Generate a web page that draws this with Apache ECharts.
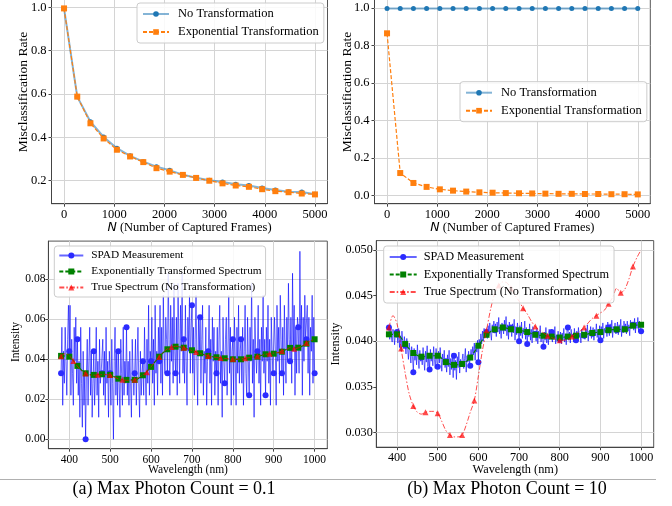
<!DOCTYPE html>
<html><head><meta charset="utf-8">
<script src="https://cdn.jsdelivr.net/npm/echarts@6/dist/echarts.min.js"></script>
<style>html,body{margin:0;padding:0;background:#fff}#c{width:672px;height:506px}</style>
</head><body><div id="c"></div>
<script>
// ---------- data ----------
const frames = [0,263,526,789,1053,1316,1579,1842,2105,2368,2632,2895,3158,3421,3684,3947,4211,4474,4737,5000];
const errNoTransA = [0.995,0.588,0.472,0.402,0.350,0.315,0.288,0.265,0.248,0.228,0.214,0.202,0.194,0.184,0.178,0.167,0.157,0.149,0.148,0.138];
const errExpA     = [0.995,0.588,0.465,0.395,0.343,0.312,0.286,0.258,0.242,0.227,0.213,0.200,0.188,0.178,0.172,0.161,0.152,0.147,0.141,0.137];
const errNoTransB = [0.998,0.998,0.998,0.998,0.998,0.998,0.998,0.998,0.998,0.998,0.998,0.998,0.998,0.998,0.998,0.998,0.998,0.998,0.998,0.998];
const errExpB     = [0.865,0.119,0.066,0.045,0.032,0.025,0.020,0.016,0.014,0.012,0.011,0.010,0.009,0.008,0.008,0.007,0.007,0.006,0.006,0.005];

// SPAD measurement, 380..1000 nm every 2 nm
const spadStart = 380, spadStep = 2;
const spadA = [
.033,.056,.017,.044,.028,.056,.039,.022,.05,.067,
.044,.067,.022,.05,.033,.017,.056,.039,.061,.028,
.05,.022,.039,.011,.056,.028,.006,.044,.017,.033,
0,.033,.05,.017,.039,.056,.022,.044,.011,.028,
.044,.017,.033,.056,.022,.039,.011,.05,.028,.033,
.033,.05,.022,.044,.017,.056,.028,.039,.011,.044,
.033,.017,.05,.028,0,.039,.056,.022,.044,.017,
.044,.028,.011,.05,.033,.017,.056,.022,.039,.028,
.056,.022,.039,.017,.044,.028,.011,.05,.033,.022,
.033,.05,.017,.039,.056,.028,.011,.044,.022,.033,
.039,.022,.056,.033,.017,.05,.028,.067,.022,.044,
.039,.061,.028,.05,.017,.067,.033,.044,.022,.056,
.039,.067,.028,.056,.022,.072,.044,.033,.061,.05,
.033,.083,.05,.022,.067,.039,.061,.028,.078,.044,
.033,.061,.022,.078,.05,.028,.067,.044,.083,.033,
.05,.028,.067,.039,.017,.061,.044,.072,.033,.056,
.067,.033,.056,.022,.05,.072,.039,.017,.061,.044,
.061,.028,.05,.067,.022,.044,.033,.056,.017,.039,
.044,.067,.028,.05,.017,.061,.039,.056,.022,.044,
.033,.056,.017,.05,.067,.028,.044,.011,.061,.039,
.028,.05,.061,.022,.044,.072,.033,.056,.017,.044,
.05,.022,.061,.039,.017,.056,.033,.067,.028,.044,
.05,.028,.056,.017,.044,.067,.033,.022,.061,.039,
.022,.056,.039,.078,.028,.05,.011,.061,.044,.033,
.044,.067,.028,.05,.017,.056,.039,.072,.033,.05,
.022,.056,.039,.067,.028,.05,.017,.061,.044,.033,
.033,.061,.044,.017,.067,.039,.056,.028,.072,.05,
.033,.056,.022,.067,.044,.028,.061,.039,.078,.05,
.039,.061,.028,.083,.044,.067,.022,.056,.033,.061,
.056,.033,.094,.044,.067,.022,.061,.039,.072,.05,
.05,.067,.033,.061,.022,.056,.044,.072,.028,.061,
.033];
const spadB = [
.0415,.0402,.0418,.0405,.0399,.0413,.0407,.0396,.0411,.0404,
.0410,.0398,.0414,.0393,.0406,.0389,.0411,.0400,.0392,.0405,
.0395,.0386,.0403,.0391,.0380,.0398,.0388,.0376,.0394,.0383,
.0366,.0392,.0379,.0388,.0374,.0396,.0381,.0370,.0390,.0378,
.0382,.0374,.0393,.0379,.0368,.0389,.0377,.0395,.0372,.0386,
.0369,.0391,.0378,.0387,.0373,.0394,.0380,.0370,.0392,.0376,
.0372,.0389,.0376,.0393,.0381,.0367,.0386,.0374,.0390,.0371,
.0378,.0366,.0385,.0372,.0390,.0363,.0381,.0369,.0387,.0360,
.0384,.0368,.0379,.0358,.0383,.0371,.0388,.0365,.0380,.0373,
.0375,.0386,.0370,.0381,.0392,.0366,.0384,.0377,.0389,.0374,
.0373,.0391,.0380,.0394,.0385,.0398,.0379,.0396,.0388,.0401,
.0377,.0402,.0393,.0408,.0397,.0411,.0400,.0414,.0404,.0410,
.0410,.0403,.0417,.0406,.0420,.0409,.0401,.0418,.0411,.0422,
.0412,.0419,.0405,.0421,.0410,.0426,.0408,.0416,.0403,.0420,
.0415,.0408,.0423,.0411,.0427,.0406,.0418,.0402,.0421,.0412,
.0415,.0405,.0419,.0409,.0424,.0401,.0416,.0407,.0420,.0410,
.0400,.0417,.0406,.0421,.0403,.0414,.0408,.0422,.0402,.0415,
.0397,.0412,.0405,.0419,.0401,.0413,.0398,.0416,.0406,.0411,
.0408,.0400,.0414,.0397,.0411,.0403,.0417,.0399,.0409,.0402,
.0394,.0410,.0401,.0415,.0398,.0408,.0396,.0413,.0403,.0409,
.0410,.0399,.0412,.0402,.0416,.0397,.0407,.0400,.0411,.0398,
.0402,.0410,.0397,.0409,.0401,.0414,.0399,.0408,.0396,.0412,
.0415,.0401,.0410,.0398,.0413,.0404,.0408,.0399,.0414,.0403,
.0401,.0411,.0400,.0415,.0404,.0409,.0398,.0413,.0405,.0410,
.0406,.0402,.0414,.0405,.0418,.0400,.0411,.0407,.0416,.0403,
.0408,.0415,.0401,.0413,.0406,.0419,.0404,.0412,.0399,.0417,
.0401,.0416,.0407,.0420,.0403,.0414,.0409,.0418,.0405,.0421,
.0415,.0406,.0419,.0410,.0423,.0404,.0416,.0411,.0420,.0408,
.0412,.0421,.0407,.0418,.0410,.0424,.0405,.0417,.0409,.0422,
.0413,.0419,.0408,.0422,.0411,.0418,.0406,.0423,.0414,.0420,
.0418,.0412,.0425,.0409,.0421,.0414,.0426,.0410,.0422,.0415,
.0411];

// exponentially transformed spectrum, every 20 nm
const wl20 = [380,400,420,440,460,480,500,520,540,560,580,600,620,640,660,680,700,720,740,760,780,800,820,840,860,880,900,920,940,960,980,1000];
const expSpecA = [.0417,.0413,.0367,.0330,.0322,.0325,.0322,.0303,.0297,.0297,.0320,.0362,.0413,.0450,.0463,.0458,.0445,.0430,.0417,.0410,.0405,.0400,.0400,.0408,.0413,.0425,.0428,.0438,.0457,.0458,.0478,.0500];
const expSpecB = [.04075,.04075,.0397,.0387,.0383,.0384,.0384,.0377,.0374,.0375,.0382,.0395,.0407,.0413,.0415,.0413,.0412,.0410,.0407,.0406,.0405,.0404,.0405,.0406,.0407,.0409,.0410,.0412,.0413,.0413,.0417,.0418];

// true spectrum, every 10 nm
const wl10 = [380,390,400,410,420,430,440,450,460,470,480,490,500,510,520,530,540,550,560,570,580,590,600,610,620,630,640,650,660,670,680,690,700,710,720,730,740,750,760,770,780,790,800,810,820,830,840,850,860,870,880,890,900,910,920,930,940,950,960,970,980,990,1000];
const trueSpec = [.0415,.0428,.0419,.0392,.0365,.0342,.0329,.0322,.0320,.0322,.0323,.0323,.0321,.0312,.0302,.0297,.0295,.0295,.0297,.0308,.0322,.0335,.0362,.0390,.0412,.0435,.0452,.0461,.0465,.0464,.0458,.0450,.0444,.0436,.0430,.0422,.0416,.0412,.0409,.0406,.0404,.0402,.0401,.0401,.0402,.0405,.0408,.0411,.0415,.0420,.0425,.0428,.0431,.0434,.0441,.0448,.0458,.0453,.0457,.0468,.0482,.0492,.0500];

const xTicksFrames = [0,1000,2000,3000,4000,5000];
const yTicksErrA = [0.2,0.4,0.6,0.8,1.0];
const yTicksErrB = [0.0,0.2,0.4,0.6,0.8,1.0];
const xTicksWl = [400,500,600,700,800,900,1000];
const yTicksIntA = [0.00,0.02,0.04,0.06,0.08];
const yTicksIntB = [0.030,0.035,0.040,0.045,0.050];

// ---------- helpers ----------
const FONT = 'Liberation Serif';
const spadWl = spadA.map((_, i) => spadStart + i * spadStep);
function pts(xs, ys, every) {
  return ys.map((y, i) => (i % every === 0) ? [xs[i], y] : {value: [xs[i], y], symbol: 'none'});
}
function axis(gridIndex, min, max, ticks, fmt, fs, margin) {
  return {
    type: 'value', gridIndex, min, max,
    axisLine: {show: true, onZero: false, lineStyle: {color: '#444', width: 1}},
    axisTick: {show: true, length: 3, inside: false, customValues: ticks, lineStyle: {color: '#444', width: 1}},
    axisLabel: {customValues: ticks, formatter: fmt, color: '#000', fontFamily: FONT, fontSize: fs, margin},
    splitLine: {show: false},
    minorTick: {show: false}, minorSplitLine: {show: false}
  };
}
// grid lines drawn at the tick values
function gridLines(idx, xt, yt) {
  return {
    type: 'line', xAxisIndex: idx, yAxisIndex: idx, data: [], z: 1, silent: true,
    markLine: {
      z: 1, silent: true, symbol: ['none', 'none'], label: {show: false}, animation: false,
      lineStyle: {color: '#d4d4d4', width: 1, type: 'solid'},
      emphasis: {disabled: true},
      data: xt.map(v => ({xAxis: v})).concat(yt.map(v => ({yAxis: v})))
    }
  };
}
function legend(left, top, names, o) {
  return {
    z: 20, left, top, orient: 'vertical', data: names, selectedMode: false,
    itemWidth: o.iw, itemHeight: o.ih, itemGap: o.gap, padding: o.pad,
    backgroundColor: 'rgba(255,255,255,0.85)', borderColor: '#cccccc', borderWidth: 1, borderRadius: 3,
    textStyle: {fontFamily: FONT, fontSize: o.fs, color: '#000', lineHeight: o.lh, padding: [0, 0, 0, o.tp]}
  };
}
const gridBase = {show: true, borderColor: '#555', borderWidth: 1, containLabel: false, outerBoundsMode: 'none'};

const blueTop = {type: 'line', symbol: 'circle', symbolSize: 5, itemStyle: {color: '#1f77b4'},
  lineStyle: {color: '#1f77b4', width: 2, opacity: 0.55}, z: 2};
const orangeTop = {type: 'line', symbol: 'rect', symbolSize: 6, itemStyle: {color: '#ff7f0e'},
  lineStyle: {color: '#ff7f0e', width: 1.2, type: [4, 2]}, z: 3};
const spadStyle = {type: 'line', symbol: 'circle', symbolSize: 6, itemStyle: {color: '#2b2bff'},
  lineStyle: {color: '#0000ff', width: 1, opacity: 0.6}, z: 2};
const greenStyle = {type: 'line', symbol: 'rect', symbolSize: 6, smooth: 0.3, itemStyle: {color: '#008000'},
  lineStyle: {color: '#008000', width: 1.2, type: [4, 2]}, z: 3};
const redStyle = {type: 'line', symbol: 'triangle', symbolSize: 6, smooth: 0.3, itemStyle: {color: '#ff0000', opacity: 0.7},
  lineStyle: {color: '#ff0000', width: 1, opacity: 0.7, type: [5, 2, 1.5, 2]}, z: 4};

const option = {
  animation: false,
  backgroundColor: '#fff',
  grid: [
    Object.assign({left: 51.5, top: -0.9, width: 276, height: 204.6}, gridBase),
    Object.assign({left: 374.5, top: -0.9, width: 275.8, height: 204.6}, gridBase),
    Object.assign({left: 48.4, top: 241.1, width: 278.9, height: 207.6}, gridBase),
    Object.assign({left: 376.3, top: 240.6, width: 277.4, height: 206.6}, gridBase)
  ],
  xAxis: [
    axis(0, -250, 5250, xTicksFrames, v => String(v), 12.5, 5),
    axis(1, -250, 5250, xTicksFrames, v => String(v), 12.5, 5),
    axis(2, 349, 1031, xTicksWl, v => String(v), 11.5, 5),
    axis(3, 349, 1031, xTicksWl, v => String(v), 12.2, 5)
  ],
  yAxis: [
    axis(0, 0.0941, 1.0379, yTicksErrA, v => v.toFixed(1), 12.5, 5),
    axis(1, -0.0447, 1.0477, yTicksErrB, v => v.toFixed(1), 12.5, 5),
    axis(2, -0.00472, 0.0991, yTicksIntA, v => v.toFixed(2), 11.5, 3),
    axis(3, 0.02837, 0.05103, yTicksIntB, v => v.toFixed(3), 12.2, 3.5)
  ],
  legend: [
    legend(137, 3, ['No Transformation', 'Exponential Transformation'], {iw: 26, ih: 7, gap: 4, pad: [4, 5, 4, 5], fs: 12.5, lh: 14, tp: 4}),
    legend(460, 81.7, ['No Transformation', 'Exponential Transformation'], {iw: 26, ih: 7, gap: 4, pad: [4, 5, 4, 5], fs: 12.5, lh: 14, tp: 4}),
    legend(54.3, 246, ['SPAD Measurement', 'Exponentially Transformed Spectrum', 'True Spectrum (No Transformation)'], {iw: 24, ih: 7.5, gap: 3, pad: [3, 4, 3, 4], fs: 11.3, lh: 13, tp: 3}),
    legend(383.7, 246, ['SPAD Measurement', 'Exponentially Transformed Spectrum', 'True Spectrum (No Transformation)'], {iw: 27, ih: 7.5, gap: 3.5, pad: [4, 5, 4, 5], fs: 12.3, lh: 14, tp: 2})
  ],
  series: [
    gridLines(0, xTicksFrames, yTicksErrA),
    gridLines(1, xTicksFrames, yTicksErrB),
    gridLines(2, xTicksWl, yTicksIntA),
    gridLines(3, xTicksWl, yTicksIntB),
    Object.assign({name: 'No Transformation', xAxisIndex: 0, yAxisIndex: 0, data: pts(frames, errNoTransA, 1)}, blueTop),
    Object.assign({name: 'Exponential Transformation', xAxisIndex: 0, yAxisIndex: 0, data: pts(frames, errExpA, 1)}, orangeTop),
    Object.assign({name: 'No Transformation', xAxisIndex: 1, yAxisIndex: 1, data: pts(frames, errNoTransB, 1)}, blueTop),
    Object.assign({name: 'Exponential Transformation', xAxisIndex: 1, yAxisIndex: 1, data: pts(frames, errExpB, 1)}, orangeTop),
    Object.assign({name: 'SPAD Measurement', xAxisIndex: 2, yAxisIndex: 2, data: pts(spadWl, spadA, 10)}, spadStyle),
    Object.assign({name: 'Exponentially Transformed Spectrum', xAxisIndex: 2, yAxisIndex: 2, data: pts(wl20, expSpecA, 1)}, greenStyle),
    Object.assign({name: 'True Spectrum (No Transformation)', xAxisIndex: 2, yAxisIndex: 2, data: pts(wl10, trueSpec, 3)}, redStyle),
    Object.assign({name: 'SPAD Measurement', xAxisIndex: 3, yAxisIndex: 3, data: pts(spadWl, spadB, 10)}, spadStyle),
    Object.assign({name: 'Exponentially Transformed Spectrum', xAxisIndex: 3, yAxisIndex: 3, data: pts(wl20, expSpecB, 1)}, greenStyle),
    Object.assign({name: 'True Spectrum (No Transformation)', xAxisIndex: 3, yAxisIndex: 3, data: pts(wl10, trueSpec, 3)}, redStyle)
  ],
  graphic: [
    {type: 'text', x: 23.5, y: 92, rotation: Math.PI / 2, style: {text: 'Misclassification Rate', font: '13.5px "Liberation Serif"', fill: '#000', align: 'center', verticalAlign: 'middle'}},
    {type: 'text', x: 347, y: 92, rotation: Math.PI / 2, style: {text: 'Misclassification Rate', font: '13.5px "Liberation Serif"', fill: '#000', align: 'center', verticalAlign: 'middle'}},
    {type: 'text', x: 189.5, y: 228, style: {text: '{i|N} (Number of Captured Frames)', fontFamily: FONT, fontSize: 12.5, fill: '#000', align: 'center', verticalAlign: 'middle',
      rich: {i: {fontFamily: 'DejaVu Sans', fontStyle: 'italic', fontSize: 12.5, fill: '#000'}}}},
    {type: 'text', x: 512.4, y: 228, style: {text: '{i|N} (Number of Captured Frames)', fontFamily: FONT, fontSize: 12.5, fill: '#000', align: 'center', verticalAlign: 'middle',
      rich: {i: {fontFamily: 'DejaVu Sans', fontStyle: 'italic', fontSize: 12.5, fill: '#000'}}}},
    {type: 'text', x: 16, y: 342, rotation: Math.PI / 2, style: {text: 'Intensity', font: '11.5px "Liberation Serif"', fill: '#000', align: 'center', verticalAlign: 'middle'}},
    {type: 'text', x: 336, y: 344, rotation: Math.PI / 2, style: {text: 'Intensity', font: '12.3px "Liberation Serif"', fill: '#000', align: 'center', verticalAlign: 'middle'}},
    {type: 'text', x: 188, y: 470, style: {text: 'Wavelength (nm)', font: '11.5px "Liberation Serif"', fill: '#000', align: 'center', verticalAlign: 'middle'}},
    {type: 'text', x: 515.3, y: 469.3, style: {text: 'Wavelength (nm)', font: '12.3px "Liberation Serif"', fill: '#000', align: 'center', verticalAlign: 'middle'}},
    {type: 'line', shape: {x1: 0, y1: 479.5, x2: 656, y2: 479.5}, style: {stroke: '#b0b0b0', lineWidth: 1}},
    {type: 'text', x: 174, y: 489, style: {text: '(a) Max Photon Count = 0.1', font: '18px "Liberation Serif"', fill: '#000', align: 'center', verticalAlign: 'middle'}},
    {type: 'text', x: 507, y: 489, style: {text: '(b) Max Photon Count = 10', font: '18px "Liberation Serif"', fill: '#000', align: 'center', verticalAlign: 'middle'}}
  ]
};
const chart = echarts.init(document.getElementById('c'), null, {renderer: 'canvas'});
chart.setOption(option);
</script>
</body></html>
